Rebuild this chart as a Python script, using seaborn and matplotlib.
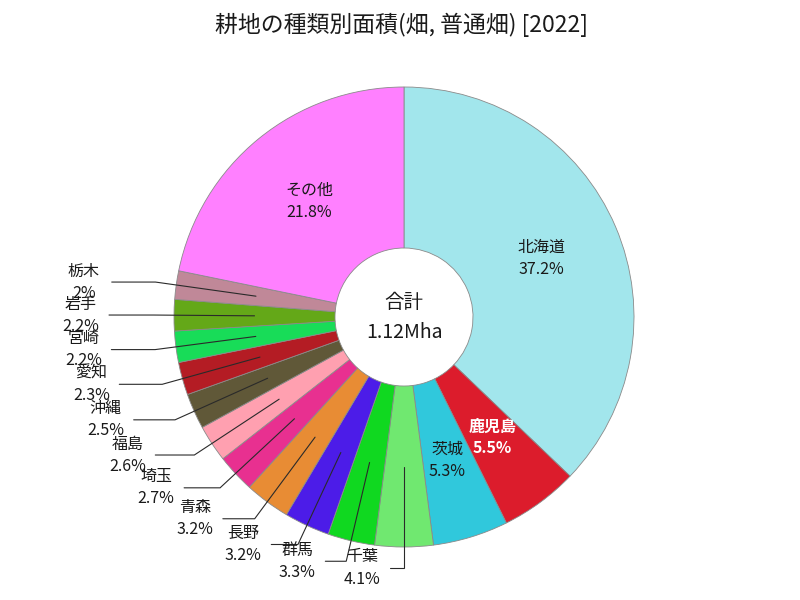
import numpy as np
import matplotlib
matplotlib.use('Agg')
import matplotlib.pyplot as plt
import seaborn as sns

# ---- data ----
categories = ['北海道', '鹿児島', '茨城', '千葉', '群馬', '長野', '青森', '埼玉',
              '福島', '沖縄', '愛知', '宮崎', '岩手', '栃木', 'その他']
shares = [37.2, 5.5, 5.3, 4.1, 3.3, 3.2, 3.2, 2.7, 2.6, 2.5, 2.3, 2.2, 2.2, 2.0, 21.8]
pct_labels = ['37.2%', '5.5%', '5.3%', '4.1%', '3.3%', '3.2%', '3.2%', '2.7%',
              '2.6%', '2.5%', '2.3%', '2.2%', '2.2%', '2%', '21.8%']
colors = ['#a2e6ec', '#dc1c2c', '#30c8dc', '#70e870', '#10d820', '#4c1ce8',
          '#e88c34', '#e83090', '#ffa0b0', '#605838', '#b41c24', '#18dc58',
          '#64a818', '#c08898', '#ff80ff']
total_title = '合計'
total_label = '1.12Mha'
title = '耕地の種類別面積(畑, 普通畑) [2022]'

sns.set_theme(style='white')
plt.rcParams['font.family'] = ['Noto Sans CJK JP', 'DejaVu Sans']

W, H = 800, 600
R = 230.0          # pie radius in pixels
cx, cy = 404, 317  # pie centre (pixels from top-left)

fig = plt.figure(figsize=(8, 6), dpi=100)
fig.patch.set_facecolor('white')
ax = fig.add_axes([0, 0, 1, 1])

palette = sns.color_palette(colors)
wedges, _ = ax.pie(shares, colors=palette, startangle=90, counterclock=False,
                   radius=1.0,
                   wedgeprops=dict(width=0.7, edgecolor='#8a8a8a', linewidth=0.6))

ax.set_xlim(-cx / R, (W - cx) / R)
ax.set_ylim(-(H - cy) / R, cy / R)
ax.set_aspect('auto')
ax.axis('off')

px = 1.0 / R
vals = np.array(shares)
total = vals.sum()
cum = np.cumsum(vals)
mids = 90 - 360 * (cum - vals / 2) / total
rmid = 0.65
txt_col = '#1a1a1a'
fs = 11.5

for name, pct, s, ang in zip(categories, pct_labels, shares, mids):
    t = np.deg2rad(ang)
    if s >= 5:
        x, y = rmid * np.cos(t), rmid * np.sin(t)
        if name == '鹿児島':
            kw = dict(color='white', fontweight='bold')
        else:
            kw = dict(color=txt_col)
        ax.text(x, y + 11 * px, name, ha='center', va='center', fontsize=fs, **kw)
        ax.text(x, y - 11 * px, pct, ha='center', va='center', fontsize=fs, **kw)
    else:
        x0, y0 = rmid * np.cos(t), rmid * np.sin(t)
        re = 251 * px
        x1, y1 = re * np.cos(t), re * np.sin(t)
        side = -1 if np.cos(t) <= 0.01 else 1
        hl = (14 + 30 * abs(np.cos(t))) * px
        x2 = x1 + side * hl
        ax.plot([x0, x1, x2], [y0, y1, y1], color='#2a2a2a', lw=0.8,
                solid_joinstyle='miter')
        tx = x2 + side * 28 * px
        ax.text(tx, y1 + 11 * px, name, ha='center', va='center', fontsize=fs,
                color=txt_col)
        ax.text(tx, y1 - 11 * px, pct, ha='center', va='center', fontsize=fs,
                color=txt_col)

ax.text(0, 15 * px, total_title, ha='center', va='center', fontsize=14, color=txt_col)
ax.text(0, -16 * px, total_label, ha='center', va='center', fontsize=14, color=txt_col)

fig.text(402 / W, 1 - 25 / H, title, ha='center', va='center', fontsize=16.5,
         color=txt_col)

fig.savefig('out.png', dpi=100, facecolor='white')
